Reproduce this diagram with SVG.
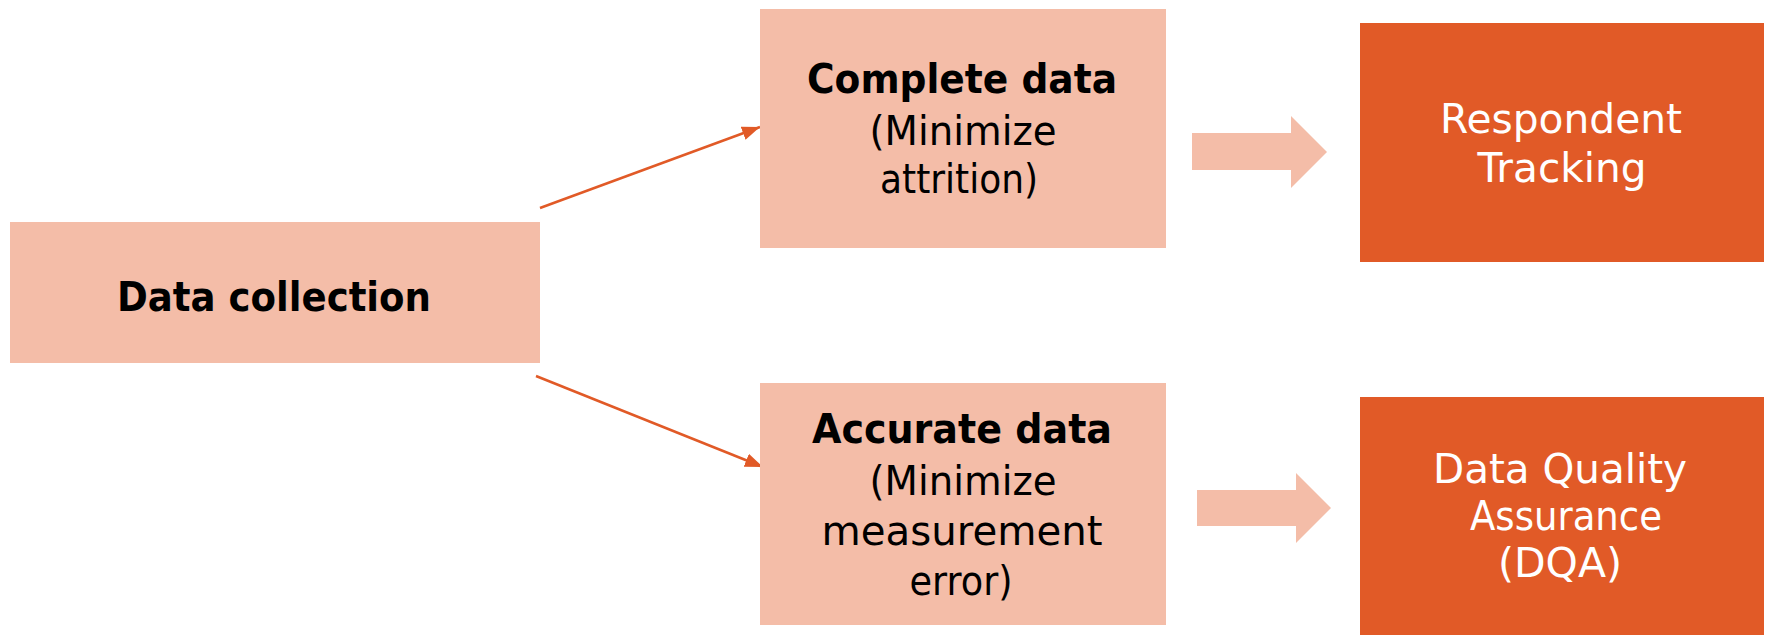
<svg xmlns="http://www.w3.org/2000/svg" width="1767" height="635" viewBox="0 0 1767 635">
<style>
.light{fill:#F4BDA8}
.dark{fill:#E15A27}
.t{font-family:"DejaVu Sans","Liberation Sans",sans-serif;font-size:40px;text-anchor:middle}
.b{font-weight:bold;fill:#000}
.r{fill:#000}
.w{fill:#fff}
.conn{stroke:#E15A27;stroke-width:2.5;fill:none}
</style>
<defs>
<marker id="ah" markerUnits="userSpaceOnUse" markerWidth="20" markerHeight="16" refX="18" refY="7" orient="auto">
<path d="M0,0 L18,7 L0,14 Z" fill="#E15A27"/>
</marker>
</defs>
<rect width="1767" height="635" fill="#fff"/>
<g id="connectors">
<line class="conn" x1="540" y1="208" x2="760" y2="127" marker-end="url(#ah)"/>
<line class="conn" x1="536" y1="376" x2="763" y2="467" marker-end="url(#ah)"/>
<path class="light" d="M1192,133 L1291,133 L1291,116 L1327,152 L1291,188 L1291,170 L1192,170 Z"/>
<path class="light" d="M1197,490 L1296,490 L1296,473 L1331,508 L1296,543 L1296,526 L1197,526 Z"/>
</g>
<g id="data-collection">
<rect class="light" x="10" y="222" width="530" height="141"/>
<text class="t b" x="274" y="311" textLength="314" lengthAdjust="spacingAndGlyphs">Data collection</text>
</g>
<g id="complete-data">
<rect class="light" x="760" y="9" width="406" height="239"/>
<text class="t b" x="962" y="93" textLength="310" lengthAdjust="spacingAndGlyphs">Complete data</text>
<text class="t r" x="963" y="145" textLength="187" lengthAdjust="spacingAndGlyphs">(Minimize</text>
<text class="t r" x="959" y="193" textLength="158" lengthAdjust="spacingAndGlyphs">attrition)</text>
</g>
<g id="accurate-data">
<rect class="light" x="760" y="383" width="406" height="242"/>
<text class="t b" x="962" y="443" textLength="300" lengthAdjust="spacingAndGlyphs">Accurate data</text>
<text class="t r" x="963" y="495" textLength="187" lengthAdjust="spacingAndGlyphs">(Minimize</text>
<text class="t r" x="962" y="545" textLength="281" lengthAdjust="spacingAndGlyphs">measurement</text>
<text class="t r" x="961" y="595" textLength="103" lengthAdjust="spacingAndGlyphs">error)</text>
</g>
<g id="respondent-tracking">
<rect class="dark" x="1360" y="23" width="404" height="239"/>
<text class="t w" x="1561" y="133" textLength="242" lengthAdjust="spacingAndGlyphs">Respondent</text>
<text class="t w" x="1562" y="182" textLength="169" lengthAdjust="spacingAndGlyphs">Tracking</text>
</g>
<g id="dqa">
<rect class="dark" x="1360" y="397" width="404" height="238"/>
<text class="t w" x="1560" y="483" textLength="254" lengthAdjust="spacingAndGlyphs">Data Quality</text>
<text class="t w" x="1566" y="530" textLength="192" lengthAdjust="spacingAndGlyphs">Assurance</text>
<text class="t w" x="1560" y="577" textLength="124" lengthAdjust="spacingAndGlyphs">(DQA)</text>
</g>
</svg>
